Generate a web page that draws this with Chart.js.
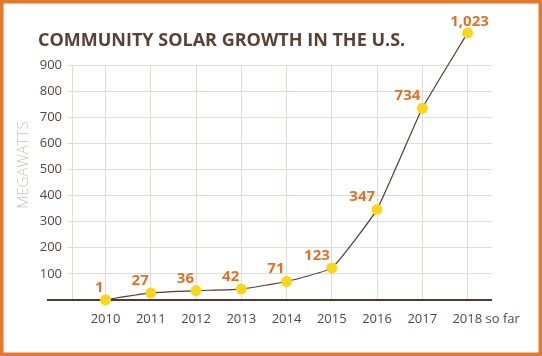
<!DOCTYPE html>
<html><head><meta charset="utf-8">
<script src="https://cdn.jsdelivr.net/npm/chart.js@4.4.1/dist/chart.umd.min.js"></script>
<style>html,body{margin:0;padding:0;background:#fff;}#wrap{width:542px;height:356px;position:relative}</style>
</head><body><div id="wrap"><canvas id="c" width="542" height="356"></canvas></div>
<script>
const chartTitle = 'COMMUNITY SOLAR GROWTH IN THE U.S.';
const yAxisTitle = 'MEGAWATTS';
const categories = ['2010', '2011', '2012', '2013', '2014', '2015', '2016', '2017', '2018 so far'];
const values = [1, 27, 36, 42, 71, 123, 347, 734, 1023];
const yTickValues = [0, 100, 200, 300, 400, 500, 600, 700, 800, 900];

const ORANGE = '#e8772e';
const LABEL_ORANGE = '#de7129';
const BROWN = '#5a4035';
const TICK_COLOR = '#57463e';
const GRID = '#e2dbd7';
const YELLOW = '#f9d61c';
const FONT = "'Open Sans', 'DejaVu Sans', sans-serif";

const measureCtx = document.createElement('canvas').getContext('2d');
function tickLabel(i) {
  const full = categories[i];
  if (full === undefined) return '';
  const parts = full.split(' ');
  if (parts.length === 1) return full;
  // keep the year itself centred on its tick: pad the left with the width of the suffix
  measureCtx.font = '13px ' + FONT;
  const suffix = full.slice(parts[0].length);
  const n = Math.round(measureCtx.measureText(suffix).width / measureCtx.measureText(' ').width);
  return ' '.repeat(n) + full;
}

const decor = {
  id: 'decor',
  beforeDraw(chart) {
    const ctx = chart.ctx;
    ctx.save();
    ctx.fillStyle = '#ffffff';
    ctx.fillRect(0, 0, chart.width, chart.height);
    ctx.strokeStyle = ORANGE;
    ctx.lineWidth = 3.5;
    ctx.strokeRect(1.75, 1.75, chart.width - 3.5, chart.height - 3.5);
    ctx.restore();
  },
  beforeDatasetsDraw(chart) {
    const ctx = chart.ctx, a = chart.chartArea;
    const y0 = chart.scales.y.getPixelForValue(0);
    ctx.save();
    ctx.strokeStyle = '#4e3b31';
    ctx.lineWidth = 2;
    ctx.beginPath();
    ctx.moveTo(a.left - 25, y0);
    ctx.lineTo(a.right, y0);
    ctx.stroke();
    ctx.restore();
  },
  afterDatasetsDraw(chart) {
    const ctx = chart.ctx, a = chart.chartArea;
    const meta = chart.getDatasetMeta(0);
    // points above the top gridline are skipped by Chart.js; draw those elements with an open area
    const open = { left: -1e4, top: -1e4, right: 1e4, bottom: 1e4 };
    meta.data.forEach(pt => {
      if (pt.y < a.top || pt.y > a.bottom) pt.draw(ctx, open);
    });
    ctx.save();
    ctx.fillStyle = LABEL_ORANGE;
    ctx.font = 'bold 15px ' + FONT;
    ctx.textBaseline = 'alphabetic';
    meta.data.forEach((pt, i) => {
      const txt = values[i].toLocaleString('en-US');
      if (i === meta.data.length - 1) {
        ctx.textAlign = 'center';
        ctx.fillText(txt, pt.x + 2, pt.y - 7);
      } else {
        ctx.textAlign = 'right';
        ctx.fillText(txt, pt.x - 2, pt.y - 8);
      }
    });
    ctx.restore();
  },
  afterDraw(chart) {
    const ctx = chart.ctx;
    ctx.save();
    ctx.fillStyle = BROWN;
    ctx.font = 'bold 18px ' + FONT;
    ctx.textAlign = 'left';
    ctx.textBaseline = 'alphabetic';
    ctx.fillText(chartTitle, 38, 45.5);
    ctx.translate(24, 165);
    ctx.rotate(-Math.PI / 2);
    ctx.fillStyle = '#c9c2be';
    ctx.font = '300 15px ' + FONT;
    ctx.textAlign = 'center';
    ctx.textBaseline = 'middle';
    ctx.fillText(yAxisTitle, 0, 0);
    ctx.restore();
  }
};

new Chart(document.getElementById('c'), {
  type: 'line',
  data: {
    datasets: [{
      data: values.map((v, i) => ({ x: i, y: v })),
      borderColor: '#4f3d35',
      borderWidth: 1.2,
      tension: 0.12,
      capBezierPoints: false,
      pointRadius: 5.5,
      pointHoverRadius: 5.5,
      pointBackgroundColor: YELLOW,
      pointBorderWidth: 0,
      clip: false
    }]
  },
  options: {
    responsive: false,
    animation: false,
    events: [],
    layout: { padding: { top: 65, right: 50, left: 0, bottom: 0 } },
    plugins: { legend: { display: false }, tooltip: { enabled: false }, title: { display: false } },
    scales: {
      x: {
        type: 'linear',
        min: -0.74,
        max: 8.54,
        afterFit: s => { s.height = 56; },
        afterBuildTicks: s => { s.ticks = categories.map((c, i) => ({ value: i })); },
        grid: { color: GRID, lineWidth: 1, drawTicks: false },
        border: { display: false },
        ticks: {
          padding: 11,
          maxRotation: 0,
          autoSkip: false,
          color: TICK_COLOR,
          font: { family: FONT, size: 13 },
          callback: v => tickLabel(v)
        }
      },
      y: {
        min: 0,
        max: 900,
        afterFit: s => { s.width = 72; },
        afterBuildTicks: s => { s.ticks = yTickValues.map(v => ({ value: v })); },
        grid: { color: GRID, lineWidth: 1, drawTicks: true, tickLength: 5 },
        border: { display: true, color: GRID, width: 1 },
        ticks: {
          padding: 5,
          color: TICK_COLOR,
          font: { family: FONT, size: 13 },
          callback: v => (v === 0 ? null : String(v))
        }
      }
    }
  },
  plugins: [decor]
});
</script></body></html>
